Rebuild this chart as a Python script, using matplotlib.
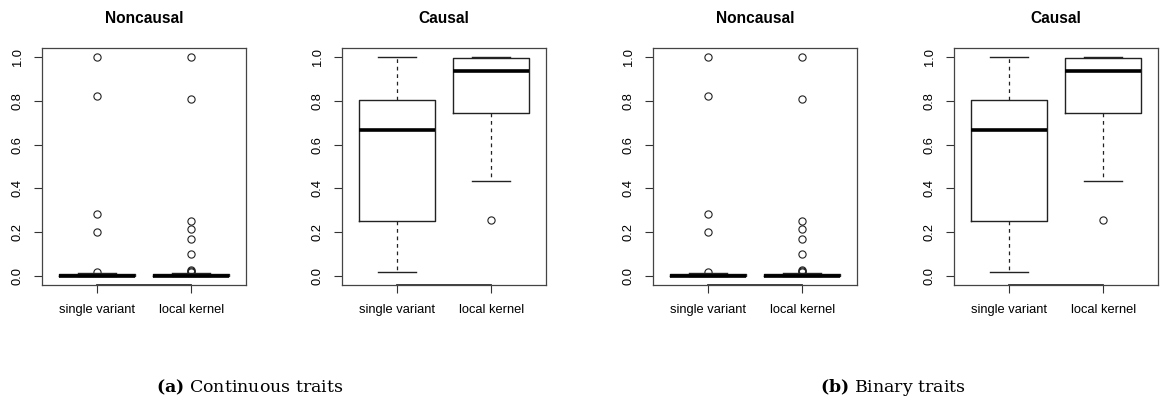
import matplotlib.pyplot as plt

plt.rcParams["mathtext.fontset"] = "dejavuserif"

# box summaries: q1, median, q3, whisker low, whisker high
groups = ["single variant", "local kernel"]

noncausal_q1 = [0.0, 0.0]
noncausal_med = [0.0, 0.0]
noncausal_q3 = [0.006, 0.006]
noncausal_lo = [0.0, 0.0]
noncausal_hi = [0.012, 0.012]
noncausal_out = [
    [1.0, 0.825, 0.28, 0.2, 0.015],
    [1.0, 0.81, 0.25, 0.213, 0.167, 0.101, 0.025, 0.02, 0.015],
]

causal_q1 = [0.25, 0.745]
causal_med = [0.667, 0.937]
causal_q3 = [0.805, 0.997]
causal_lo = [0.015, 0.432]
causal_hi = [1.0, 1.0]
causal_out = [[], [0.255]]

yticks = [0.0, 0.2, 0.4, 0.6, 0.8, 1.0]

panels = [
    ("Noncausal", noncausal_q1, noncausal_med, noncausal_q3, noncausal_lo, noncausal_hi, noncausal_out),
    ("Causal", causal_q1, causal_med, causal_q3, causal_lo, causal_hi, causal_out),
]

W, H = 1161, 404
fig = plt.figure(figsize=(W / 100, H / 100), dpi=100)

# left edges of the four plot regions (px)
lefts = [42, 342, 653, 954]
pw, top, bottom = 204, 48, 285

def make_stats(q1, med, q3, lo, hi, out):
    stats = []
    for i in range(len(q1)):
        stats.append(dict(q1=q1[i], med=med[i], q3=q3[i], whislo=lo[i], whishi=hi[i], fliers=out[i]))
    return stats

for k, x0 in enumerate(lefts):
    title, q1, med, q3, lo, hi, out = panels[k % 2]
    ax = fig.add_axes([x0 / W, 1 - bottom / H, pw / W, (bottom - top) / H])
    ax.bxp(make_stats(q1, med, q3, lo, hi, out), positions=[1, 2], widths=0.8,
           patch_artist=False,
           boxprops=dict(color="#222222", lw=1.0),
           medianprops=dict(color="black", lw=2.6, solid_capstyle="butt"),
           whiskerprops=dict(color="#222222", lw=0.9, ls=(0, (3, 3))),
           capprops=dict(color="#222222", lw=1.0),
           capwidths=0.4,
           flierprops=dict(marker="o", mfc="none", mec="#222222", ms=5.2, mew=0.8))
    ax.set_xlim(0.42, 2.58)
    ax.set_ylim(-0.0432, 1.0432)
    ax.set_xticks([1, 2])
    ax.set_xticklabels(groups, fontsize=9.3, family="Liberation Sans")
    ax.set_yticks(yticks)
    ax.set_yticklabels(["%.1f" % v for v in yticks], rotation=90, va="center",
                       fontsize=9.3, family="Liberation Sans")
    ax.tick_params(length=6, width=0.8, color="#333333")
    ax.tick_params(axis="y", pad=7)
    ax.tick_params(axis="x", pad=8)
    for s in ax.spines.values():
        s.set_color("#444444")
        s.set_linewidth(0.9)
    # x axis line running between the two ticks
    ax.plot([1, 2], [-0.0432, -0.0432], color="#333333", lw=1.3, clip_on=False)
    ax.set_title(title, fontsize=11.2, fontweight="bold", family="Liberation Sans", pad=18)

# captions
fig.text(250 / W, 1 - 387 / H, r"$\mathbf{(a)}$ Continuous traits", ha="center", va="center",
         fontsize=12.5, family="DejaVu Serif")
fig.text(893 / W, 1 - 387 / H, r"$\mathbf{(b)}$ Binary traits", ha="center", va="center",
         fontsize=12.5, family="DejaVu Serif")

fig.savefig("out.png", dpi=100)
